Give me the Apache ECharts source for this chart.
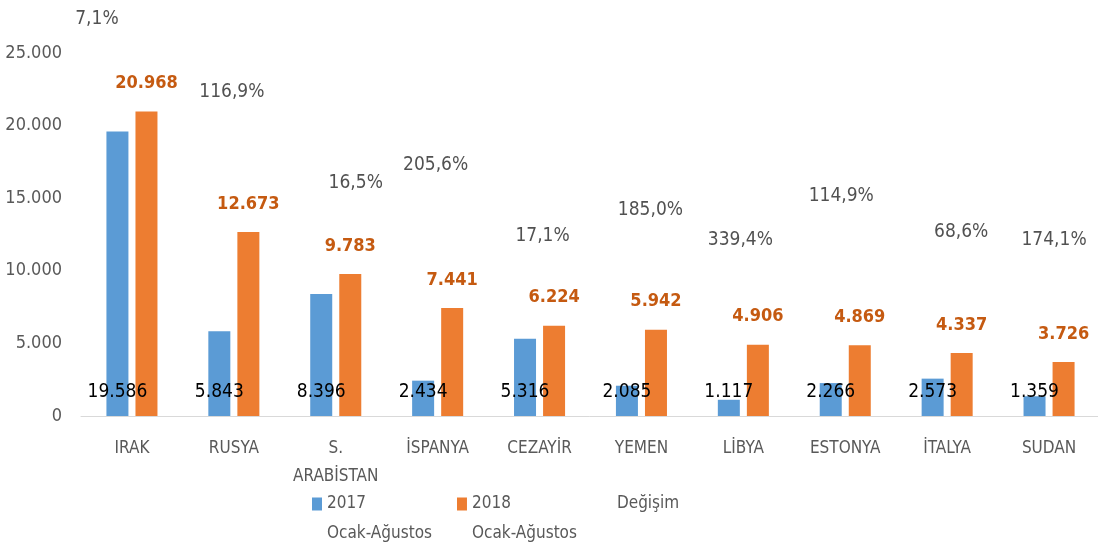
<!DOCTYPE html>
<html>
<head>
<meta charset="utf-8">
<title>Ocak-Ağustos 2017 / 2018</title>
<script src="https://cdn.jsdelivr.net/npm/echarts@6/dist/echarts.min.js"></script>
<style>
  html, body { margin: 0; padding: 0; background: #fff; }
  #chart { width: 1098px; height: 554px; }
</style>
</head>
<body>
<div id="chart"></div>
<script>
// chart data
const categories = ["IRAK", "RUSYA", "S.\nARABİSTAN", "İSPANYA", "CEZAYİR", "YEMEN", "LİBYA", "ESTONYA", "İTALYA", "SUDAN"];
const values2017 = [19586, 5843, 8396, 2434, 5316, 2085, 1117, 2266, 2573, 1359];
const values2018 = [20968, 12673, 9783, 7441, 6224, 5942, 4906, 4869, 4337, 3726];
const changePct = [7.1, 116.9, 16.5, 205.6, 17.1, 185.0, 339.4, 114.9, 68.6, 174.1];
const yTicks = [0, 5000, 10000, 15000, 20000, 25000];

// where the "Değişim" labels were dragged to in the original (axis units / px shift)
const changeLabelLevel = [27360, 22330, 16050, 17290, 12390, 14190, 12120, 15150, 12670, 12120];
const changeLabelShift = [-35, -2, 20, -2, 3, 9, -3, -4, 14, 5];

const FONT = '"Liberation Sans Narrow", "DejaVu Sans Condensed", "Liberation Sans", sans-serif';
const name2017 = "2017\nOcak-Ağustos";
const name2018 = "2018\nOcak-Ağustos";

function fmtThousand(v) {
  return String(v).replace(/\B(?=(\d{3})+(?!\d))/g, ".");
}
function fmtPct(v) {
  return v.toFixed(1).replace(".", ",") + "%";
}

const chart = echarts.init(document.getElementById("chart"), null, { renderer: "canvas" });

chart.setOption({
  animation: false,
  backgroundColor: "#fff",
  textStyle: { fontFamily: FONT },
  grid: {
    left: 81,
    width: 1019,
    top: 53,
    bottom: 138,
    containLabel: false,
    outerBoundsMode: "none"
  },
  legend: {
    left: 312,
    top: 459,
    padding: 0,
    itemGap: 25,
    itemWidth: 10,
    itemHeight: 13,
    selectedMode: false,
    // two-line names: put an empty line first so "2017"/"2018" sits beside the square
    formatter: name => (name.indexOf("\n") >= 0 ? "\n" + name : name),
    textStyle: {
      fontFamily: FONT,
      fontSize: 17,
      color: "#595959",
      lineHeight: 30
    },
    data: [
      { name: name2017, icon: "rect" },
      { name: name2018, icon: "rect" },
      { name: "Değişim", icon: "none" }
    ]
  },
  xAxis: {
    type: "category",
    data: categories,
    axisLine: { lineStyle: { color: "#D9D9D9", width: 1 } },
    axisTick: { show: false },
    axisLabel: {
      interval: 0,
      margin: 19,
      fontSize: 17,
      lineHeight: 28,
      color: "#595959"
    }
  },
  yAxis: {
    type: "value",
    min: yTicks[0],
    max: yTicks[yTicks.length - 1],
    interval: yTicks[1] - yTicks[0],
    axisLine: { show: false },
    axisTick: { show: false },
    splitLine: { show: false },
    axisLabel: {
      margin: 19,
      fontSize: 18,
      color: "#595959",
      formatter: v => fmtThousand(v)
    }
  },
  series: [
    {
      name: name2017,
      type: "bar",
      data: values2017,
      barWidth: 22,
      barGap: "32%",
      itemStyle: { color: "#5B9BD5" },
      label: {
        show: true,
        position: "insideBottom",
        distance: 14,
        color: "#000",
        fontSize: 19,
        formatter: p => fmtThousand(p.value)
      }
    },
    {
      name: name2018,
      type: "bar",
      data: values2018,
      barWidth: 22,
      itemStyle: { color: "#ED7D31" },
      label: {
        show: true,
        position: "top",
        distance: 19,
        color: "#C55A11",
        fontWeight: "bold",
        fontSize: 18,
        formatter: p => fmtThousand(p.value)
      }
    },
    {
      name: "Değişim",
      type: "scatter",
      clip: false,
      silent: true,
      symbolSize: 1,
      itemStyle: { color: "rgba(0,0,0,0)" },
      z: 5,
      data: changeLabelLevel.map((lv, i) => ({
        value: lv,
        label: { offset: [changeLabelShift[i], 0] }
      })),
      label: {
        show: true,
        position: "inside",
        color: "#262626",
        fontSize: 19,
        formatter: p => fmtPct(changePct[p.dataIndex])
      }
    }
  ]
});
</script>
</body>
</html>
